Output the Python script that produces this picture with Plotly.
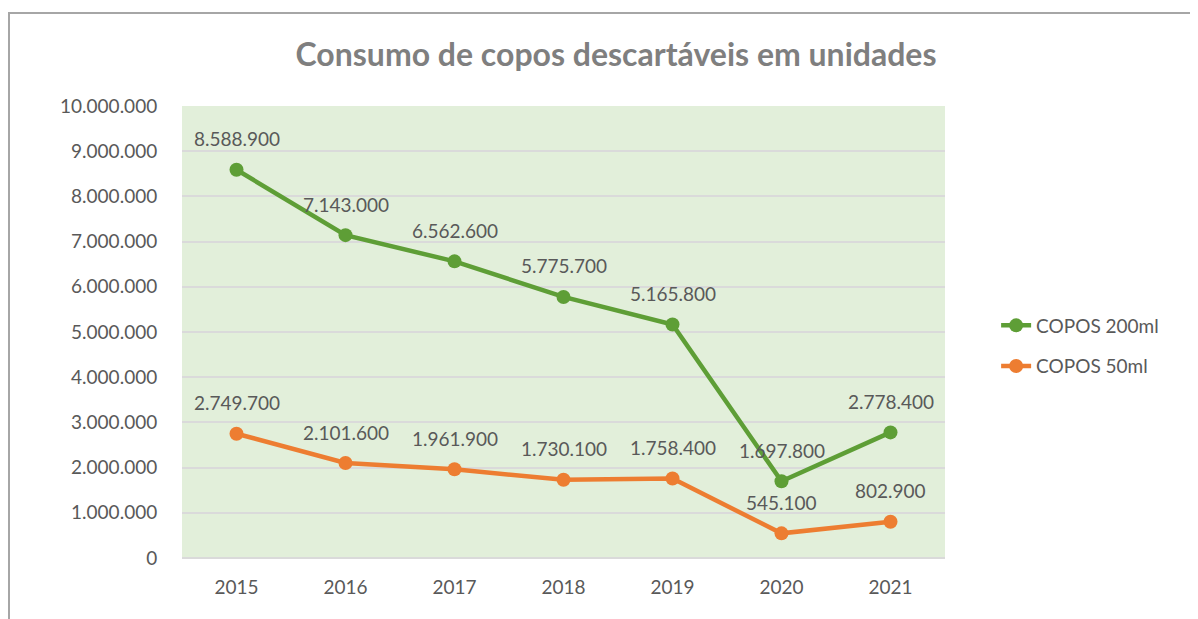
import plotly.graph_objects as go

years = ["2015", "2016", "2017", "2018", "2019", "2020", "2021"]
copos_200 = [8588900, 7143000, 6562600, 5775700, 5165800, 1697800, 2778400]
copos_50 = [2749700, 2101600, 1961900, 1730100, 1758400, 545100, 802900]
y_ticks = list(range(0, 10000001, 1000000))

def fmt(v):
    return f"{v:,}".replace(",", ".")

GREEN = "#5E9E36"
ORANGE = "#ED7D31"
FONT = "Lato"

W, H = 1190, 611
L, R, T, B = 174, 253, 98, 61
PW, PH = W - L - R, H - T - B

fig = go.Figure()
fig.add_trace(go.Scatter(x=years, y=copos_200, name="COPOS 200ml", mode="lines+markers",
                         line=dict(color=GREEN, width=4.5), marker=dict(size=14, color=GREEN),
                         legendgroup="a"))
fig.add_trace(go.Scatter(x=years, y=copos_50, name="COPOS 50ml", mode="lines+markers",
                         line=dict(color=ORANGE, width=4.5), marker=dict(size=14, color=ORANGE),
                         legendgroup="b"))

annotations = []
for series in (copos_200, copos_50):
    for i, v in enumerate(series):
        annotations.append(dict(x=i, y=v, xref="x", yref="y", text=fmt(v), showarrow=False,
                                yshift=31,
                                font=dict(family=FONT, size=19, color="#595959")))

fig.update_layout(
    width=W, height=H,
    margin=dict(l=L, r=R, t=T, b=B),
    paper_bgcolor="white", plot_bgcolor="#E2EFDA",
    font=dict(family=FONT, size=19, color="#595959"),
    title=dict(text="<b>Consumo de copos descartáveis em unidades</b>",
               x=(616 - 8) / W, xanchor="center",
               y=1 - (55 - 8) / H, yanchor="middle",
               font=dict(family=FONT, size=32, color="#7F7F7F")),
    showlegend=True,
    legend=dict(x=1.067, xanchor="left", y=0.469, yanchor="middle", tracegroupgap=13,
                traceorder="grouped", font=dict(family=FONT, size=19, color="#595959"),
                bgcolor="rgba(0,0,0,0)"),
    annotations=annotations,
    shapes=[dict(type="rect", xref="paper", yref="paper",
                 x0=(1 - L) / PW, x1=(W + 40 - L) / PW,
                 y0=(H - B - (H + 60)) / PH, y1=(H - B - 5) / PH,
                 line=dict(color="#A6A6A6", width=2), fillcolor="rgba(0,0,0,0)", layer="below")],
)
fig.update_xaxes(type="category", range=[-0.5, 6.5], showgrid=False, showline=False,
                 zeroline=False, ticks="outside", ticklen=12, tickcolor="rgba(0,0,0,0)",
                 tickfont=dict(family=FONT, size=19, color="#595959"))
fig.update_yaxes(range=[0, 10000000], tickvals=y_ticks, ticktext=[fmt(v) for v in y_ticks],
                 showgrid=True, gridcolor="#DADADA", gridwidth=1.5, zeroline=True,
                 zerolinecolor="#DADADA", zerolinewidth=2, showline=False,
                 ticks="outside", ticklen=20, tickcolor="rgba(0,0,0,0)",
                 tickfont=dict(family=FONT, size=19, color="#595959"))

fig.write_html("out.html")
